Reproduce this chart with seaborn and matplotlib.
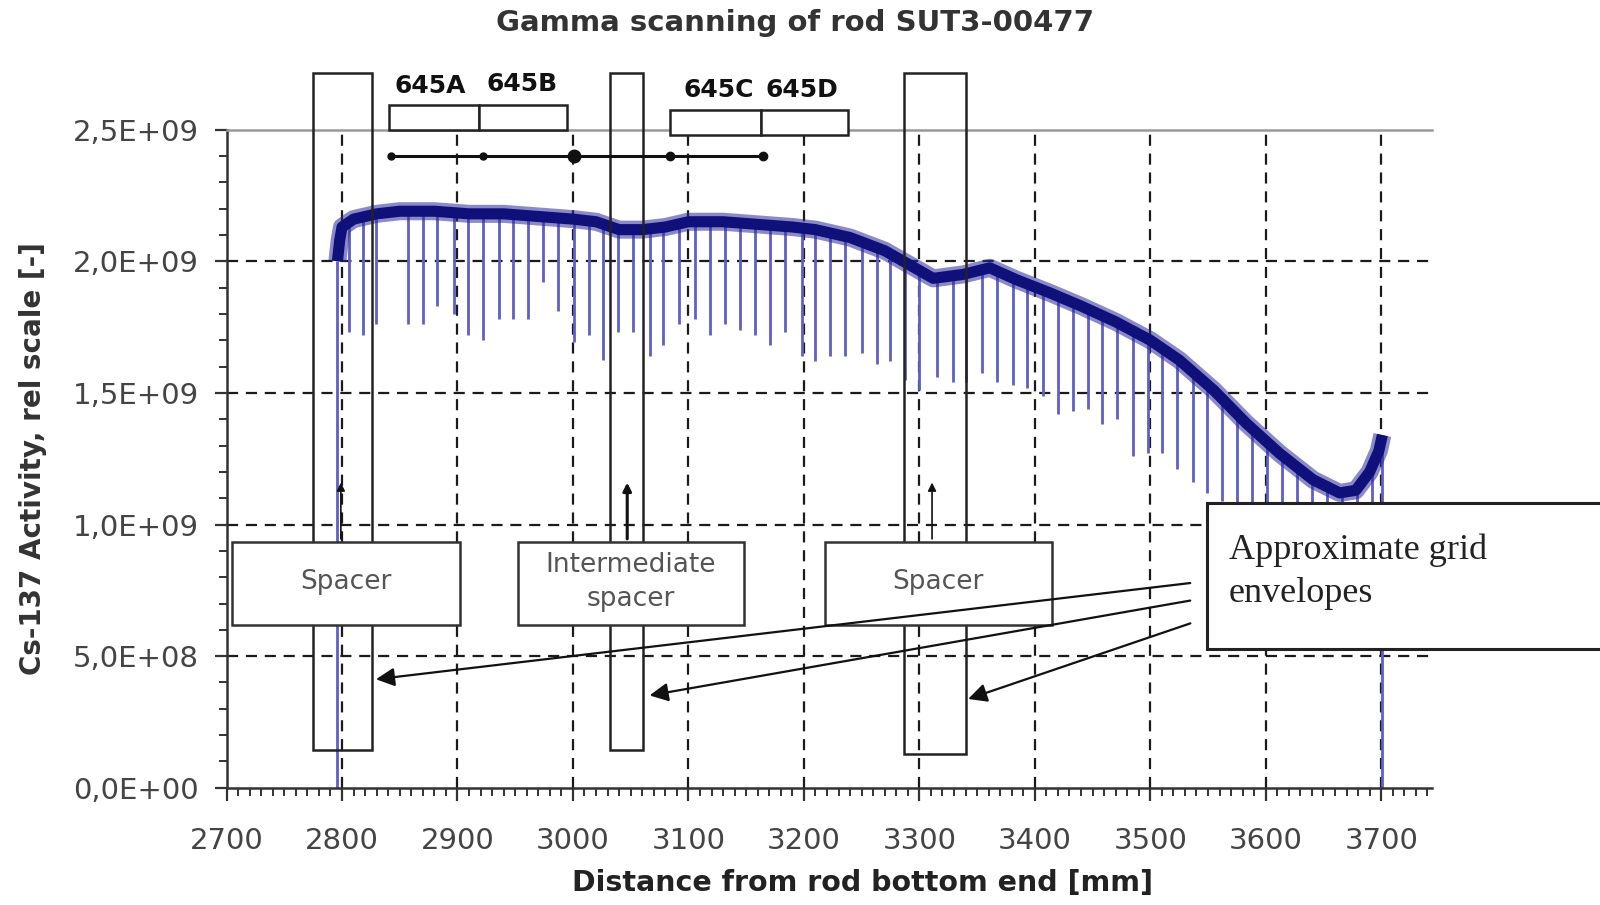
import numpy as np
import matplotlib
matplotlib.use('Agg')
import matplotlib.pyplot as plt
from matplotlib.patches import Rectangle
from matplotlib.ticker import MultipleLocator, FuncFormatter
import seaborn as sns

# smoothed activity profile (centre of the noisy band)
profile_x = [2796, 2798, 2800, 2810, 2830, 2850, 2880, 2910, 2940, 2970, 3000,
             3020, 3040, 3060, 3080, 3100, 3130, 3160, 3190, 3210, 3240, 3270,
             3290, 3312, 3338, 3361, 3384, 3413, 3440, 3470, 3500, 3525, 3555,
             3583, 3612, 3641, 3664, 3678, 3690, 3698, 3701]
profile_y = [2.00e9, 2.08e9, 2.13e9, 2.16e9, 2.18e9, 2.19e9, 2.19e9, 2.18e9,
             2.18e9, 2.17e9, 2.16e9, 2.15e9, 2.12e9, 2.12e9, 2.13e9, 2.15e9,
             2.15e9, 2.14e9, 2.13e9, 2.12e9, 2.09e9, 2.04e9, 1.99e9, 1.935e9,
             1.95e9, 1.975e9, 1.93e9, 1.88e9, 1.83e9, 1.77e9, 1.70e9, 1.625e9,
             1.51e9, 1.385e9, 1.27e9, 1.17e9, 1.12e9, 1.13e9, 1.20e9, 1.28e9,
             1.34e9]

# grid dips (position, bottom value)
dip_x = [2796, 2806, 2818, 2829, 2857, 2870, 2882, 2897, 2909, 2922, 2936, 2948,
         2961, 2974, 2987, 3001, 3014, 3026, 3039, 3052, 3067, 3078, 3092, 3106,
         3119, 3132, 3145, 3158, 3171, 3184, 3198, 3210, 3223, 3236, 3250, 3263,
         3275, 3288, 3300, 3315, 3329, 3340, 3354, 3367, 3381, 3393, 3407, 3420,
         3433, 3446, 3458, 3471, 3485, 3498, 3510, 3523, 3537, 3549, 3562, 3575,
         3588, 3601, 3614, 3627, 3640, 3653, 3666, 3679, 3692, 3701]
dip_y = [0.0, 1.73e9, 1.72e9, 1.76e9, 1.76e9, 1.76e9, 1.83e9, 1.80e9, 1.72e9,
         1.70e9, 1.78e9, 1.78e9, 1.78e9, 1.92e9, 1.81e9, 1.695e9, 1.72e9,
         1.625e9, 1.73e9, 1.73e9, 1.64e9, 1.68e9, 1.76e9, 1.78e9, 1.72e9,
         1.76e9, 1.74e9, 1.72e9, 1.68e9, 1.73e9, 1.64e9, 1.62e9, 1.64e9,
         1.64e9, 1.65e9, 1.61e9, 1.62e9, 1.55e9, 1.51e9, 1.56e9, 1.54e9,
         1.54e9, 1.575e9, 1.54e9, 1.53e9, 1.52e9, 1.49e9, 1.42e9, 1.43e9,
         1.44e9, 1.38e9, 1.40e9, 1.26e9, 1.27e9, 1.27e9, 1.21e9, 1.16e9,
         1.12e9, 1.09e9, 0.95e9, 0.95e9, 0.95e9, 0.95e9, 0.95e9, 0.95e9,
         0.95e9, 0.95e9, 0.95e9, 0.95e9, 0.0]

# spacer envelopes
spacer_x0 = [2775, 3032, 3287]
spacer_x1 = [2826, 3061, 3340]
spacer_bottom = [0.144e9, 0.144e9, 0.130e9]
spacer_top = 2.714e9

# sample segments
sample_names = ['645A', '645B', '645C', '645D']
sample_x0 = [2841, 2919, 3084, 3163]
sample_x1 = [2919, 2995, 3163, 3238]
sample_bottom = [2.500e9, 2.500e9, 2.480e9, 2.480e9]
sample_label_x = [2876, 2956, 3126, 3198]
sample_label_y = [2.664e9, 2.675e9, 2.652e9, 2.652e9]
cut_x = [2842, 2922, 3001, 3084, 3165]
cut_size = [5, 5, 9, 6, 6]

# labelled callouts
label_names = ['Spacer', 'Intermediate\nspacer', 'Spacer']
label_x0 = [2705, 2952, 3218]
label_x1 = [2902, 3148, 3415]
pointer_x = [2799, 3047, 3311]
pointer_lw = [1.2, 2.2, 1.2]

env_end_x = [2827, 3064, 3340]
env_end_y = [0.411e9, 0.349e9, 0.334e9]
env_start_y = [0.779e9, 0.713e9, 0.628e9]

xticks = list(range(2700, 3701, 100))
yticks = [0, 0.5e9, 1.0e9, 1.5e9, 2.0e9, 2.5e9]


def sci_comma(v, pos):
    return f'{v:.1E}'.replace('.', ',')


def main():
    sns.set_style('white')
    plt.rcParams['font.family'] = ['DejaVu Sans']

    fig = plt.figure(figsize=(16, 9.05), dpi=100)
    ax = fig.add_axes([0.1416, 0.1295, 0.7534, 0.7273])

    # grid
    for y in yticks[1:-1]:
        ax.axhline(y, color='#1a1a1a', lw=1.6, ls=(0, (5, 3.5)), zorder=1)
    for x in xticks[1:]:
        ax.axvline(x, color='#1a1a1a', lw=1.6, ls=(0, (5, 3.5)), zorder=1)

    # dips and activity band
    tops = np.interp(dip_x, profile_x, profile_y)
    ax.vlines(dip_x, dip_y, tops, color='#5f5fc6', lw=2.0, zorder=2)
    sns.lineplot(x=profile_x, y=profile_y, ax=ax, color='#2a2a9c', lw=13,
                 alpha=0.55, solid_capstyle='butt', zorder=3)
    sns.lineplot(x=profile_x, y=profile_y, ax=ax, color='#10107a', lw=8,
                 solid_capstyle='butt', zorder=3)

    # spacer envelopes
    for x0, x1, yb in zip(spacer_x0, spacer_x1, spacer_bottom):
        ax.add_patch(Rectangle((x0, yb), x1 - x0, spacer_top - yb, fill=False,
                               ec='#222222', lw=1.8, zorder=4, clip_on=False))

    # sample boxes above the plot
    for name, x0, x1, yb, lx, ly in zip(sample_names, sample_x0, sample_x1,
                                        sample_bottom, sample_label_x, sample_label_y):
        ax.add_patch(Rectangle((x0, yb), x1 - x0, 0.093e9, fc='white',
                               ec='#222222', lw=1.8, zorder=5, clip_on=False))
        ax.text(lx, ly, name, ha='center', va='center', fontsize=18,
                fontweight='bold', color='#111111', clip_on=False)
    ax.plot([cut_x[0], cut_x[-1]], [2.40e9, 2.40e9], color='#111111', lw=2.2,
            zorder=5)
    for cx, cs in zip(cut_x, cut_size):
        ax.plot(cx, 2.40e9, 'o', color='#111111', ms=cs, zorder=5)

    # callout boxes
    for name, x0, x1, px, plw in zip(label_names, label_x0, label_x1,
                                      pointer_x, pointer_lw):
        ax.add_patch(Rectangle((x0, 0.620e9), x1 - x0, 0.315e9, fc='white',
                               ec='#333333', lw=1.8, zorder=6))
        ax.text((x0 + x1) / 2, 0.782e9, name, ha='center', va='center',
                fontsize=19, color='#555555', linespacing=1.4, zorder=7)
        ax.annotate('', xy=(px, 1.17e9), xytext=(px, 0.935e9),
                    arrowprops=dict(arrowstyle='-|>', color='#111111', lw=plw,
                                    mutation_scale=12), zorder=6)

    # grid envelope note
    ax.add_patch(Rectangle((3549, 0.527e9), 400, 0.555e9, fc='white',
                           ec='#222222', lw=2.2, zorder=6, clip_on=False))
    ax.text(3568, 0.82e9, 'Approximate grid\nenvelopes', ha='left', va='center',
            fontsize=26, family=['Liberation Serif', 'DejaVu Serif'],
            color='#222222', linespacing=1.4, zorder=7, clip_on=False)
    for ex, ey, sy in zip(env_end_x, env_end_y, env_start_y):
        ax.annotate('', xy=(ex, ey), xytext=(3537, sy),
                    arrowprops=dict(arrowstyle='-|>', color='#111111', lw=1.6,
                                    mutation_scale=28), zorder=6)

    # axes
    ax.set_xlim(2700, 3744)
    ax.set_ylim(0, 2.5e9)
    ax.set_xticks(xticks)
    ax.set_yticks(yticks)
    ax.xaxis.set_minor_locator(MultipleLocator(10))
    ax.yaxis.set_minor_locator(MultipleLocator(1e8))
    ax.yaxis.set_major_formatter(FuncFormatter(sci_comma))
    ax.tick_params(axis='both', which='major', direction='out', length=9,
                   width=1.6, color='#333333', labelsize=21,
                   labelcolor='#444444', bottom=True, left=True)
    ax.tick_params(axis='x', which='major', pad=19)
    ax.tick_params(axis='y', which='major', pad=11)
    ax.tick_params(axis='both', which='minor', direction='out', length=6,
                   width=1.4, color='#333333', bottom=True, left=True)
    for side in ['left', 'bottom']:
        ax.spines[side].set_color('#333333')
        ax.spines[side].set_linewidth(1.8)
    ax.spines['top'].set_color('#999999')
    ax.spines['top'].set_linewidth(1.8)
    ax.spines['right'].set_visible(False)
    ax.set_xlabel('')
    ax.set_ylabel('')

    fig.text(0.497, 0.975, 'Gamma scanning of rod SUT3-00477', ha='center',
             va='center', fontsize=21, fontweight='bold', color='#333333')
    fig.text(0.0204, 0.4934, 'Cs-137 Activity, rel scale [-]', ha='center',
             va='center', rotation=90, fontsize=20, fontweight='bold',
             color='#333333')
    fig.text(0.539, 0.0247, 'Distance from rod bottom end [mm]', ha='center',
             va='center', fontsize=20.5, fontweight='bold', color='#222222')

    fig.savefig('out.png', dpi=100, facecolor='white')


if __name__ == '__main__':
    main()
